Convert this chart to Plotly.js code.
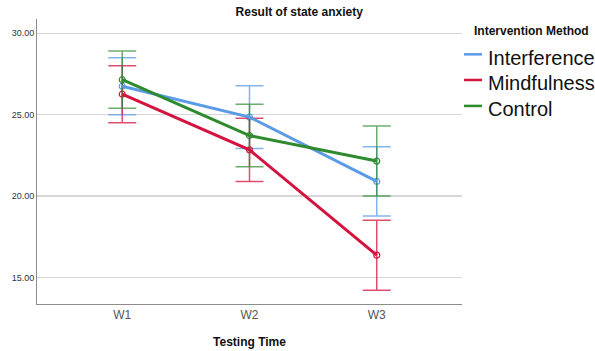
<!DOCTYPE html>
<html>
<head>
<meta charset="utf-8">
<script src="https://cdn.plot.ly/plotly-3.0.1.min.js"></script>
<style>html,body{margin:0;padding:0;background:#fff;}#chart{width:595px;height:351px;}</style>
</head>
<body>
<div id="chart"></div>
<script>
const times = ["W1", "W2", "W3"];
const seriesNames = ["Interference", "Mindfulness", "Control"];
const interferenceMean = [26.75, 24.85, 20.90];
const interferenceErr = [1.75, 1.93, 2.13];
const mindfulnessMean = [26.26, 22.84, 16.37];
const mindfulnessErr = [1.75, 1.94, 2.15];
const controlMean = [27.15, 23.72, 22.15];
const controlErr = [1.76, 1.92, 2.15];
const yTicks = [15, 20, 25, 30];
const legendTitle = "Intervention Method";

const colors = ["#5b9be6", "#d5133f", "#2d8a2d"];
const errColors = ["rgba(91,155,230,0.75)", "rgba(213,19,63,0.75)", "rgba(45,138,45,0.7)"];
const means = [interferenceMean, mindfulnessMean, controlMean];
const errs = [interferenceErr, mindfulnessErr, controlErr];

const errTraces = seriesNames.map((name, i) => ({
  type: "scatter",
  mode: "markers",
  name: name,
  showlegend: false,
  x: times,
  y: means[i],
  marker: {symbol: "circle-open", size: 6, color: colors[i], line: {width: 1.2, color: colors[i]}},
  error_y: {type: "data", array: errs[i], visible: true, color: errColors[i], thickness: 1.5, width: 14}
}));
const lineTraces = seriesNames.map((name, i) => ({
  type: "scatter",
  mode: "lines",
  name: name,
  showlegend: false,
  x: times,
  y: means[i],
  line: {color: colors[i], width: 3}
}));

const font = "Liberation Sans, Arial, sans-serif";
// manual legend (paper coordinates)
const swatchY = [0.876, 0.786, 0.695];
const textY = [0.864, 0.774, 0.684];
const shapes = seriesNames.map((name, i) => ({
  type: "line", xref: "paper", yref: "paper",
  x0: 1.0047, x1: 1.047, y0: swatchY[i], y1: swatchY[i],
  line: {color: colors[i], width: 2.5}
}));
const annotations = seriesNames.map((name, i) => ({
  xref: "paper", yref: "paper", x: 1.0553, y: textY[i],
  xanchor: "left", yanchor: "middle", showarrow: false,
  text: name, font: {size: 20, color: "#111", family: font}
}));
annotations.push({
  xref: "paper", yref: "paper", x: 1.0228, y: 0.958,
  xanchor: "left", yanchor: "middle", showarrow: false,
  text: "<b>" + legendTitle + "</b>", font: {size: 12, color: "#111", family: font}
});

const layout = {
  width: 595, height: 351,
  margin: {l: 37, r: 133, t: 19, b: 47, autoexpand: false},
  paper_bgcolor: "#fff", plot_bgcolor: "#fff",
  font: {family: font, color: "#222"},
  title: {text: "<b>Result of state anxiety</b>", font: {size: 12, family: font, color: "#111"},
          xref: "container", x: 0.503, xanchor: "center", yref: "container", y: 0.966, yanchor: "middle"},
  xaxis: {
    type: "category", range: [-0.67, 2.67],
    showline: true, linecolor: "#8c8c8c", linewidth: 1, mirror: false,
    showgrid: false, zeroline: false, ticks: "",
    tickfont: {size: 12, color: "#555", family: font},
    title: {text: "<b>Testing Time</b>", font: {size: 12, color: "#111", family: font}, standoff: 16}
  },
  yaxis: {
    range: [13.37, 30.88], tickvals: yTicks, tickformat: ".2f",
    showline: true, linecolor: "#8c8c8c", linewidth: 1, mirror: false,
    showgrid: true, gridcolor: "#d6d6d6", gridwidth: 1.5, zeroline: false, ticks: "",
    tickfont: {size: 9, color: "#333", family: font}
  },
  showlegend: false,
  shapes: shapes,
  annotations: annotations
};

Plotly.newPlot("chart", errTraces.concat(lineTraces), layout, {displayModeBar: false, staticPlot: true});
</script>
</body>
</html>
